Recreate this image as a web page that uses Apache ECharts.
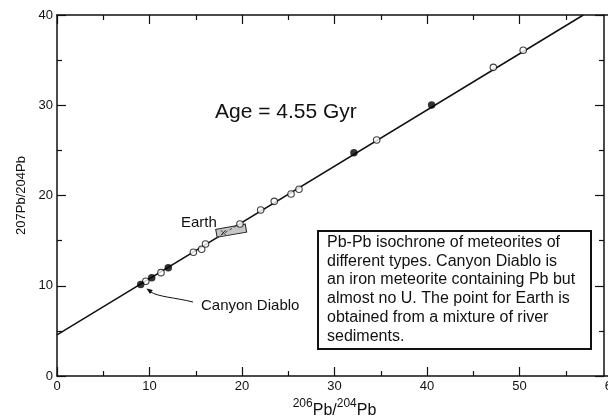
<!DOCTYPE html>
<html><head><meta charset="utf-8">
<script src="https://cdn.jsdelivr.net/npm/echarts@6/dist/echarts.min.js"></script>
<style>html,body{margin:0;padding:0;background:#fff}#c{width:608px;height:419px}</style>
</head><body><div id="c"></div>
<script>
// isochron line (Age = 4.55 Gyr)
const lineX = [0, 56.9];
const lineY = [4.55, 40];
// filled points
const filledX = [9.05, 10.24, 12.03, 32.1, 40.5];
const filledY = [10.15, 10.89, 12.0, 24.74, 30.03];
// open points
const openX = [9.6, 11.24, 14.74, 15.64, 16.06, 19.78, 22.02, 23.49, 25.3, 26.16, 34.56, 47.17, 50.4];
const openY = [10.5, 11.45, 13.71, 14.04, 14.63, 16.84, 18.39, 19.35, 20.17, 20.69, 26.15, 34.2, 36.1];
// Earth (river sediments)
const earthX = [18.83];
const earthY = [16.1];
const earthCrossX = [17.98];
const earthCrossY = [15.88];
// axis ticks
const xMin = 0, xMax = 60, xStep = 10;
const yMin = 0, yMax = 40, yStep = 10;

const FONT = '"Liberation Sans", Arial, Helvetica, sans-serif';
const zip = (a, b) => a.map((v, i) => [v, b[i]]);

const chart = echarts.init(document.getElementById('c'), null, {renderer: 'canvas'});

const axisCommon = {
  type: 'value',
  axisLine: {show: true, onZero: false, lineStyle: {color: '#111', width: 1.5}},
  axisTick: {show: true, inside: true, length: 9, lineStyle: {color: '#111', width: 1.2}},
  minorTick: {show: true, splitNumber: 2, length: 5, lineStyle: {color: '#111', width: 1.2}},
  splitLine: {show: false},
  minorSplitLine: {show: false}
};

chart.setOption({
  animation: false,
  backgroundColor: '#fff',
  grid: {left: 57, right: -4, top: 15, bottom: 43, containLabel: false, outerBoundsMode: 'none'},
  xAxis: [
    Object.assign({}, axisCommon, {
      position: 'bottom', min: xMin, max: xMax, interval: xStep,
      axisLabel: {show: true, margin: 4, color: '#111', fontSize: 13, fontFamily: FONT},
      name: '{s|206}{n|Pb/}{s|204}{n|Pb}',
      nameLocation: 'middle', nameGap: 19,
      nameTextStyle: {
        fontFamily: FONT, color: '#111',
        rich: {
          s: {fontSize: 12, fontFamily: FONT, color: '#111', verticalAlign: 'top', lineHeight: 21},
          n: {fontSize: 16, fontFamily: FONT, color: '#111', verticalAlign: 'bottom', lineHeight: 21}
        }
      }
    }),
    Object.assign({}, axisCommon, {
      position: 'top', min: xMin, max: xMax, interval: xStep,
      axisLabel: {show: false}
    })
  ],
  yAxis: [
    Object.assign({}, axisCommon, {
      position: 'left', min: yMin, max: yMax, interval: yStep,
      axisLabel: {show: true, margin: 4, color: '#111', fontSize: 13, fontFamily: FONT},
      name: '207Pb/204Pb', nameLocation: 'middle', nameGap: 20, nameRotate: 90,
      nameTextStyle: {fontFamily: FONT, fontSize: 13, color: '#111'}
    }),
    Object.assign({}, axisCommon, {
      position: 'right', offset: -8, min: yMin, max: yMax, interval: yStep,
      axisLabel: {show: false}
    })
  ],
  series: [
    {
      type: 'line', data: zip(lineX, lineY), showSymbol: false, symbol: 'none',
      lineStyle: {color: '#111', width: 1.5}, clip: true, z: 2
    },
    {
      type: 'custom', z: 3,
      data: zip(earthX, earthY).map((p, i) => [p[0], p[1], earthCrossX[i], earthCrossY[i]]),
      renderItem: function (params, api) {
        const c = api.coord([api.value(0), api.value(1)]);
        const k = api.coord([api.value(2), api.value(3)]);
        const a = api.coord([17.25, 4.55 + 0.6239 * 17.25]);
        const b = api.coord([20.1, 4.55 + 0.6239 * 20.1]);
        return {
          type: 'group',
          children: [
            {type: 'rect', x: c[0], y: c[1], rotation: 10 * Math.PI / 180,
              shape: {x: -15, y: -4, width: 30, height: 8},
              style: {fill: '#c6c6c6', stroke: '#222', lineWidth: 1}},
            {type: 'line', shape: {x1: a[0], y1: a[1], x2: b[0], y2: b[1]},
              style: {stroke: '#444', lineWidth: 1, lineDash: [3, 2]}},
            {type: 'line', shape: {x1: k[0] - 2.5, y1: k[1] - 2.5, x2: k[0] + 2.5, y2: k[1] + 2.5},
              style: {stroke: '#333', lineWidth: 1}},
            {type: 'line', shape: {x1: k[0] - 2.5, y1: k[1] + 2.5, x2: k[0] + 2.5, y2: k[1] - 2.5},
              style: {stroke: '#333', lineWidth: 1}}
          ]
        };
      }
    },
    {
      type: 'scatter', data: zip(openX, openY), symbol: 'circle', symbolSize: 6.5, z: 4,
      itemStyle: {color: '#fff', borderColor: '#111', borderWidth: 1.1}
    },
    {
      type: 'scatter', data: zip(filledX, filledY), symbol: 'circle', symbolSize: 7.5, z: 5,
      itemStyle: {color: '#000'}
    }
  ],
  graphic: [
    {type: 'text', x: 215, y: 112, z: 10,
      style: {text: 'Age = 4.55 Gyr', font: '21px ' + FONT, fill: '#111', align: 'left', verticalAlign: 'middle'}},
    {type: 'text', x: 181, y: 223, z: 10,
      style: {text: 'Earth', font: '15px ' + FONT, fill: '#111', align: 'left', verticalAlign: 'middle'}},
    {type: 'text', x: 201, y: 306, z: 10,
      style: {text: 'Canyon Diablo', font: '15px ' + FONT, fill: '#111', align: 'left', verticalAlign: 'middle'}},
    {type: 'bezierCurve', z: 10,
      shape: {x1: 193, y1: 302, cpx1: 175, cpy1: 297.5, cpx2: 158, cpy2: 297, x2: 150, y2: 291.5},
      style: {stroke: '#111', lineWidth: 1, fill: null}},
    {type: 'polygon', z: 10,
      shape: {points: [[146.5, 288.5], [152.8, 289.9], [150.0, 294.0]]},
      style: {fill: '#111'}},
    {type: 'rect', z: 10,
      shape: {x: 318, y: 231, width: 273, height: 118},
      style: {fill: '#fff', stroke: '#111', lineWidth: 2}},
    {type: 'text', x: 327, y: 233, z: 11,
      style: {
        text: 'Pb-Pb isochrone of meteorites of\ndifferent types. Canyon Diablo is\nan iron meteorite containing Pb but\nalmost no U. The point for Earth is\nobtained from a mixture of river\nsediments.',
        font: '16px ' + FONT, lineHeight: 18.8, fill: '#111', align: 'left', verticalAlign: 'top'
      }}
  ]
});
</script>
</body></html>
